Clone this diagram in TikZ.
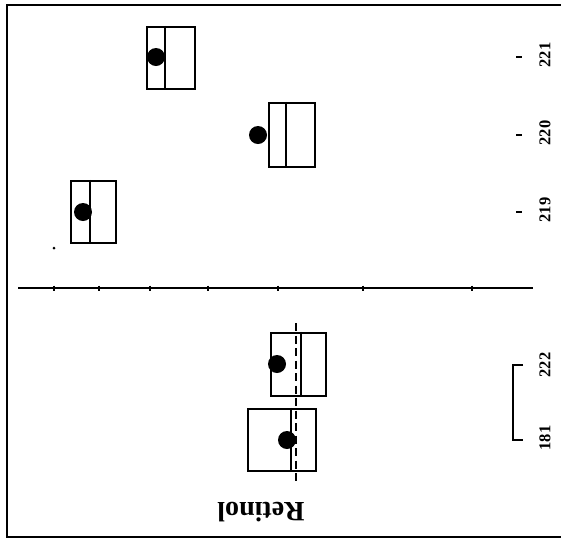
\documentclass[tikz,border=0pt]{standalone}
\usepackage{fontspec}
\setmainfont{Liberation Serif}
\begin{document}
\begin{tikzpicture}[x=1pt,y=-1pt,
  framel/.style={line width=1.3pt},
  boxnode/.style={draw, line width=2.2pt, inner sep=0pt, fill=none},
  boxline/.style={line width=2.2pt},
  dotnode/.style={circle, fill=black, inner sep=0pt, minimum size=18pt},
  lab/.style={font=\fontsize{16.5}{16.5}\selectfont\bfseries, rotate=90, inner sep=0pt},
  tickl/.style={line width=1.2pt}]
\useasboundingbox (0,0) rectangle (561,542);
% frame
\coordinate (ftr) at (561,5);
\coordinate (ftl) at (7,5);
\coordinate (fbl) at (7,537);
\coordinate (fbr) at (561,537);
\draw[framel] (ftr) -- (ftl) -- (fbl) -- (fbr);
% axis
\coordinate (ax0) at (18,288);
\coordinate (ax1) at (533,288);
\draw[line width=1.4pt] (ax0) -- (ax1);
\foreach \t in {54,99,150,208,278,363,472}
  \draw[tickl] (\t,285.5) -- (\t,290.5);
% upper boxes
\node[boxnode, minimum width=48pt, minimum height=62pt] (b221) at (171,58) {};
\draw[boxline] ([xshift=19pt]b221.north west) -- ([xshift=19pt]b221.south west);
\node[dotnode] (d221) at (156,57) {};
\node[boxnode, minimum width=46pt, minimum height=64pt] (b220) at (292,135) {};
\draw[boxline] ([xshift=18pt]b220.north west) -- ([xshift=18pt]b220.south west);
\node[dotnode] (d220) at (258,135) {};
\node[boxnode, minimum width=45pt, minimum height=62pt] (b219) at (93.5,212) {};
\draw[boxline] ([xshift=20pt]b219.north west) -- ([xshift=20pt]b219.south west);
\node[dotnode] (d219) at (83,212) {};
\node[circle, fill=black, inner sep=0pt, minimum size=3pt] (sd) at (54,248) {};
% lower boxes
\node[boxnode, minimum width=55pt, minimum height=63pt] (b222) at (298.5,364.5) {};
\draw[boxline] ([xshift=31pt]b222.north west) -- ([xshift=31pt]b222.south west);
\node[boxnode, minimum width=68pt, minimum height=62pt] (b181) at (282,440) {};
\draw[boxline] ([xshift=44pt]b181.north west) -- ([xshift=44pt]b181.south west);
\coordinate (dsh0) at (296,323);
\coordinate (dsh1) at (296,481);
\draw[line width=2.8pt, dash pattern=on 8pt off 4.5pt] (dsh0) -- (dsh1);
\node[dotnode] (d222) at (277,364) {};
\node[dotnode] (d181) at (287,440) {};
% labels
\node[lab] (l221) at (545,55) {221};
\node[lab] (l220) at (545,133) {220};
\node[lab] (l219) at (545,210) {219};
\node[lab] (l222) at (545,365) {222};
\node[lab] (l181) at (545,438) {181};
\foreach \yy in {57,135,212}
  \draw[tickl] (516,\yy) -- (522,\yy);
% bracket
\coordinate (br0) at (523,365);
\coordinate (br1) at (523,440);
\draw[line width=1.4pt] (br0) -- ++(-10,0) |- (br1);
% title
\node[font=\fontsize{28}{28}\selectfont\bfseries, rotate=180, inner sep=0pt] (ret) at (261,512) {Retinol};
\end{tikzpicture}
\end{document}
